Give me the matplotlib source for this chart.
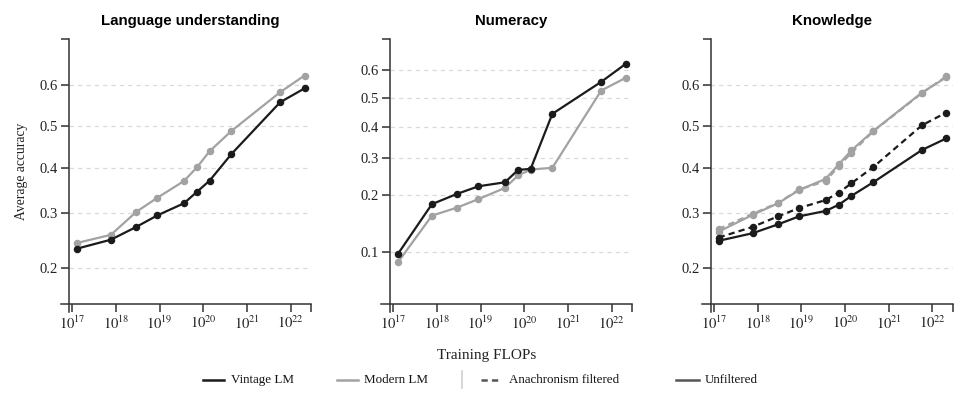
import matplotlib
matplotlib.use("Agg")
import matplotlib.pyplot as plt
from matplotlib.lines import Line2D
from matplotlib.ticker import FixedLocator, FixedFormatter

# training compute for each model (FLOPs)
flops = [1.26e17, 7.6e17, 2.9e18, 8.9e18, 3.6e19, 7.2e19, 1.4e20, 4.4e20, 5.8e21, 2.1e22]

lang_vintage = [0.232, 0.248, 0.272, 0.295, 0.320, 0.345, 0.370, 0.432, 0.558, 0.591]
lang_modern = [0.242, 0.257, 0.302, 0.332, 0.369, 0.401, 0.439, 0.488, 0.582, 0.621]

num_vintage = [0.097, 0.180, 0.203, 0.221, 0.231, 0.264, 0.267, 0.445, 0.559, 0.621]
num_modern = [0.087, 0.157, 0.173, 0.191, 0.217, 0.249, 0.265, 0.270, 0.528, 0.573]

know_vintage = [0.246, 0.260, 0.277, 0.293, 0.304, 0.317, 0.336, 0.366, 0.442, 0.470]
know_vintage_filtered = [0.252, 0.272, 0.293, 0.310, 0.327, 0.343, 0.364, 0.401, 0.502, 0.533]
know_modern = [0.263, 0.296, 0.320, 0.349, 0.374, 0.408, 0.441, 0.488, 0.581, 0.617]
know_modern_filtered = [0.268, 0.298, 0.321, 0.350, 0.369, 0.404, 0.435, 0.487, 0.580, 0.619]

titles = ["Language understanding", "Numeracy", "Knowledge"]
x_exponents = [17, 18, 19, 20, 21, 22]
x_ticklabels = ["$10^{%d}$" % e for e in x_exponents]
y_ticks_wide = [0.2, 0.3, 0.4, 0.5, 0.6]
y_ticks_num = [0.1, 0.2, 0.3, 0.4, 0.5, 0.6]

legend_labels = ["Vintage LM", "Modern LM", "Anachronism filtered", "Unfiltered"]

BLACK = "#1b1b1b"
GRAY = "#a2a2a2"
AXIS = "#333333"
SERIF = "Liberation Serif"
SANS = "Liberation Sans"

plt.rcParams["mathtext.fontset"] = "stix"
plt.rcParams["lines.scale_dashes"] = False

W, H = 972, 393
fig = plt.figure(figsize=(W / 100, H / 100), dpi=100)


def fx(px):
    return px / W


def fy(px):
    return 1 - px / H


panels = [
    # left px, y limits, x-axis crossing, y ticks
    (60.5, (0.140, 0.700), 0.15, y_ticks_wide),
    (381.5, (0.0447, 0.700), 0.05, y_ticks_num),
    (702.3, (0.140, 0.700), 0.15, y_ticks_wide),
]
series = [
    [(lang_modern, GRAY, "-"), (lang_vintage, BLACK, "-")],
    [(num_modern, GRAY, "-"), (num_vintage, BLACK, "-")],
    [(know_modern_filtered, GRAY, "--"), (know_modern, GRAY, "-"),
     (know_vintage_filtered, BLACK, "--"), (know_vintage, BLACK, "-")],
]

top_px, bot_px, width_px = 39.3, 312.0, 250.5
xmin, xmax = 10 ** 16.725, 10 ** 22.47

for i, (left, ylim, xcross, yticks) in enumerate(panels):
    ax = fig.add_axes([fx(left), fy(bot_px), width_px / W, (bot_px - top_px) / H])
    ax.set_xscale("log")
    ax.set_yscale("logit")
    ax.set_xlim(xmin, xmax)
    ax.set_ylim(*ylim)

    for vals, col, ls in series[i]:
        line, = ax.plot(flops, vals, color=col, lw=1.6, ls=ls, marker="o",
                        ms=4.4, mfc=col, mec=col, solid_capstyle="round", zorder=3)
        if ls == "--":
            line.set_dashes((4.5, 3.0))

    ax.spines["top"].set_visible(False)
    ax.spines["right"].set_visible(False)
    ax.spines["left"].set_position(("data", 10 ** 16.92))
    ax.spines["bottom"].set_position(("data", xcross))
    for s in ("left", "bottom"):
        ax.spines[s].set_color(AXIS)
        ax.spines[s].set_linewidth(1.1)

    ax.xaxis.set_major_locator(FixedLocator([10.0 ** e for e in x_exponents]))
    ax.xaxis.set_major_formatter(FixedFormatter(x_ticklabels))
    ax.xaxis.set_minor_locator(FixedLocator([xmax]))
    ax.xaxis.set_minor_formatter(FixedFormatter([""]))
    ax.yaxis.set_major_locator(FixedLocator(yticks))
    ax.yaxis.set_major_formatter(FixedFormatter(["%.1f" % t for t in yticks]))
    ax.yaxis.set_minor_locator(FixedLocator([ylim[1]]))
    ax.yaxis.set_minor_formatter(FixedFormatter([""]))

    ax.tick_params(which="both", length=6, width=1.1, color=AXIS)
    ax.tick_params(axis="y", which="major", pad=2, labelsize=10.5, labelcolor="#222222")
    ax.tick_params(axis="x", which="major", pad=2, labelsize=10.5, labelcolor="#222222")
    for lab in ax.get_yticklabels():
        lab.set_fontfamily(SERIF)

    ax.grid(axis="y", which="major", color="#d9d9d9", ls=(0, (3, 3)), lw=0.9)
    ax.set_axisbelow(True)
    ax.patch.set_alpha(0)

    centre = (left + 8.5 + left + width_px) / 2
    fig.text(fx(centre), fy(20.5), titles[i], ha="center", va="center",
             fontsize=10.8, fontweight="bold", family=SANS)

fig.text(fx(22), fy(171), "Average accuracy", rotation=90, ha="center",
         va="center", fontsize=9.8, family=SERIF, color="#222222")
fig.text(fx(487), fy(355), "Training FLOPs", ha="center", va="center",
         fontsize=11, family=SERIF, color="#222222")

# legend along the bottom
ly = 380
legend_items = [
    (202.7, 224.3, BLACK, "-", 230.7),
    (336.7, 358.0, GRAY, "-", 363.7),
    (480.7, 500.0, "#555555", "--", 509.3),
    (676.0, 699.3, "#555555", "-", 705.0),
]
for (x0, x1, col, ls, tx), label in zip(legend_items, legend_labels):
    ln = Line2D([fx(x0), fx(x1)], [fy(ly), fy(ly)], transform=fig.transFigure,
                color=col, lw=1.8, ls=ls)
    if ls == "--":
        ln.set_dashes((4.5, 3.0))
    fig.add_artist(ln)
    fig.text(fx(tx), fy(ly), label, ha="left", va="center", fontsize=9.4,
             family=SERIF, color="#111111")

fig.add_artist(Line2D([fx(461.7), fx(461.7)], [fy(371), fy(388)],
                      transform=fig.transFigure, color="#d0d0d0", lw=1.2))

fig.savefig("out.png", dpi=100)
